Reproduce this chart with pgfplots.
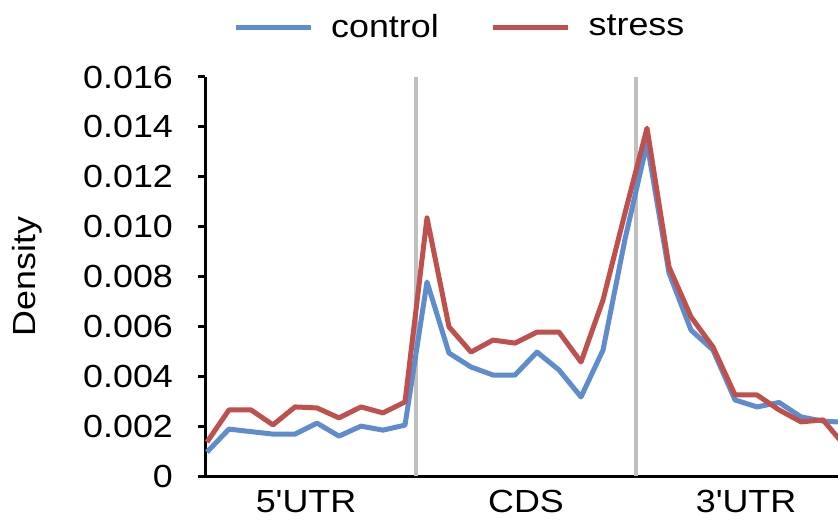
\documentclass[border=0pt]{standalone}
\usepackage{pgfplots}
\pgfplotsset{compat=1.18}
\usepackage{fontspec}
\setmainfont{Liberation Sans}[FakeStretch=1.12, Ligatures=TeXReset]
\definecolor{ctrlblue}{RGB}{95,140,205}
\definecolor{stressred}{RGB}{190,80,77}
\definecolor{sepgray}{RGB}{192,192,192}
\begin{document}
\begin{tikzpicture}
\begin{axis}[
  scale only axis,
  width=316.5pt, height=199.5pt,
  xmin=-0.09, xmax=28.68,
  ymin=0, ymax=0.016,
  axis x line*=bottom, axis y line*=left,
  axis line style={black, line width=1.5pt, -},
  xtick={4.5,14.5,24.5},
  xticklabels={5'UTR,CDS,3'UTR},
  x tick style={draw=none},
  ytick={0,0.002,0.004,0.006,0.008,0.010,0.012,0.014,0.016},
  yticklabels={0,0.002,0.004,0.006,0.008,0.010,0.012,0.014,0.016},
  scaled y ticks=false,
  y tick style={black, line width=1.5pt},
  tick align=outside,
  major tick length=3.5pt,
  tick label style={font=\fontsize{16}{19}\selectfont},
  yticklabel style={xshift=-9pt},
  /pgf/number format/assume math mode=true,
  ylabel={Density},
  ylabel style={at={(axis description cs:-0.2812,0.5)}, anchor=center, font=\fontsize{16}{19}\selectfont},
  legend style={at={(axis description cs:0.404,1.125)}, anchor=center, draw=none, fill=none,
    font=\fontsize{16}{19}\selectfont, legend columns=2,
    /tikz/every even column/.append style={column sep=24pt}},
  legend image code/.code={\draw[#1, line width=2.5pt] (0pt,0pt) -- (37.5pt,0pt); \path (44.5pt,0pt);},
  clip=true,
]
\addplot[sepgray, line width=1.8pt, forget plot] coordinates {(9.5,0) (9.5,0.016)};
\addplot[sepgray, line width=1.8pt, forget plot] coordinates {(19.5,0) (19.5,0.016)};
\addplot[ctrlblue, line width=2.5pt, line join=round] coordinates {
(0,0.00096) (1,0.00188) (2,0.00178) (3,0.00168) (4,0.00168) (5,0.00212) (6,0.00160) (7,0.00200) (8,0.00184) (9,0.00204)
(10,0.00778) (11,0.00493) (12,0.00437) (13,0.00405) (14,0.00405) (15,0.00497) (16,0.00425) (17,0.00317) (18,0.00505) (19,0.00950)
(20,0.01335) (21,0.00814) (22,0.00585) (23,0.00505) (24,0.00305) (25,0.00277) (26,0.00295) (27,0.00237) (28,0.00220) (29,0.00215)
};
\addlegendentry{control}
\addplot[stressred, line width=2.5pt, line join=round] coordinates {
(0,0.00136) (1,0.00265) (2,0.00265) (3,0.00205) (4,0.00277) (5,0.00273) (6,0.00233) (7,0.00277) (8,0.00253) (9,0.00297)
(10,0.01035) (11,0.00598) (12,0.00497) (13,0.00545) (14,0.00533) (15,0.00577) (16,0.00577) (17,0.00457) (18,0.00706) (19,0.01055)
(20,0.01395) (21,0.00838) (22,0.00638) (23,0.00517) (24,0.00325) (25,0.00325) (26,0.00265) (27,0.00217) (28,0.00225) (29,0.00120)
};
\addlegendentry{stress}
\end{axis}
\pgfresetboundingbox
\path[use as bounding box] (-102.5pt,-21.5pt) rectangle (316.5pt,238pt);
\end{tikzpicture}
\end{document}
